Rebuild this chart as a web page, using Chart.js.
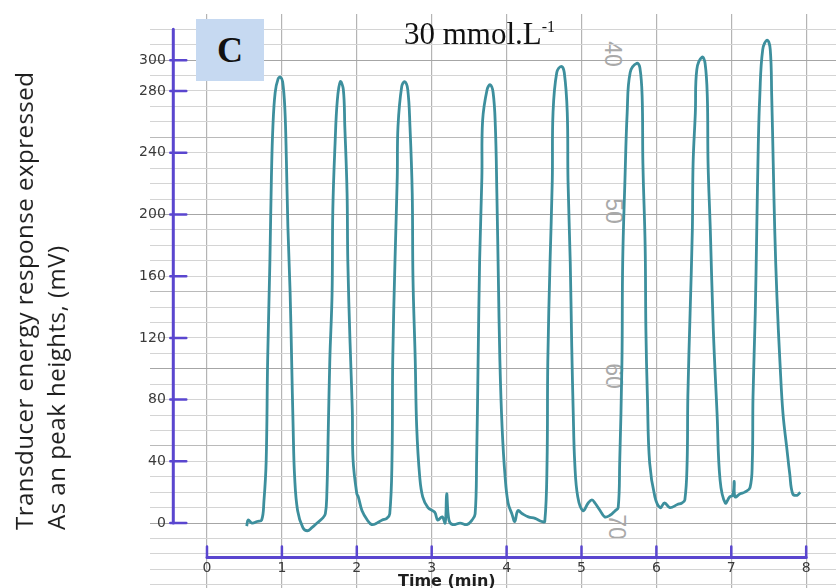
<!DOCTYPE html>
<html>
<head>
<meta charset="utf-8">
<title>Peak heights, 30 mmol/L</title>
<script src="https://cdn.jsdelivr.net/npm/chart.js@4.4.1/dist/chart.umd.min.js"></script>
<style>
  html, body { margin: 0; padding: 0; background: #fff; }
  #wrap { position: relative; width: 836px; height: 588px; overflow: hidden; }
  #trace { position: absolute; left: 0; top: 0; }
  .paperNum {
    position: absolute; width: 40px; height: 24px; margin: -12px 0 0 -20px;
    font: 23px "Liberation Sans", sans-serif; color: #a9a9a9; text-align: center;
    line-height: 24px; transform: rotate(90deg);
  }
  .ytitle {
    position: absolute; left: 8px; top: 62px; width: 66px; height: 468px;
    writing-mode: vertical-rl; transform: rotate(180deg);
    font: 24px "Open Sans", sans-serif; letter-spacing: 0.5px; line-height: 32px;
    color: #1e1e1e; white-space: nowrap;
  }
  .panel {
    position: absolute; left: 196px; top: 19px; width: 68px; height: 62px;
    background: #c6d9f1; font: bold 36px "Liberation Serif", serif; color: #111;
    text-align: center; line-height: 62px;
  }
  .conc {
    position: absolute; left: 404px; top: 18px; font: 31px "Liberation Serif", serif;
    line-height: 31px; color: #111; white-space: nowrap;
  }
  .conc span { font-size: 16px; position: relative; top: -12px; }
  .xtitle {
    position: absolute; left: 398px; top: 573px; font: bold 16px "DejaVu Sans", sans-serif;
    line-height: 16px; color: #1e1e1e; white-space: nowrap;
  }
</style>
</head>
<body>
<div id="wrap">
  <!-- numbers printed on the recorder paper, under the trace -->
  <div class="paperNum" style="left:613px; top:54px">40</div>
  <div class="paperNum" style="left:614px; top:211px">50</div>
  <div class="paperNum" style="left:614px; top:376px">60</div>
  <div class="paperNum" style="left:617px; top:527px">70</div>
  <canvas id="trace" width="836" height="588"></canvas>
  <div class="ytitle">Transducer energy response expressed<br>As an peak heights, (mV)</div>
  <div class="panel">C</div>
  <div class="conc">30 mmol.L<span>-1</span></div>
  <div class="xtitle">Time (min)</div>
</div>
<script>
// recorder trace, time in minutes and response in mV
const timeMin = [
  0.53, 0.55, 0.60, 0.67, 0.73, 0.76, 0.79, 0.81, 0.84, 0.86, 0.88, 0.91, 0.95, 0.98,
  1.01, 1.04, 1.06, 1.08, 1.11, 1.13, 1.15, 1.17, 1.21, 1.28, 1.34, 1.40, 1.47, 1.54,
  1.58, 1.60, 1.62, 1.64, 1.67, 1.68, 1.71, 1.74, 1.78, 1.82, 1.84, 1.87, 1.88, 1.91,
  1.94, 1.95, 2.00, 2.02, 2.07, 2.14, 2.20, 2.27, 2.34, 2.40, 2.44, 2.47, 2.48, 2.51,
  2.54, 2.55, 2.60, 2.64, 2.68, 2.71, 2.74, 2.75, 2.78, 2.80, 2.84, 2.88, 2.95, 3.04,
  3.08, 3.14, 3.18, 3.20, 3.23, 3.28, 3.38, 3.47, 3.54, 3.58, 3.60, 3.62, 3.64, 3.67,
  3.68, 3.74, 3.78, 3.82, 3.85, 3.87, 3.89, 3.91, 3.94, 3.98, 4.02, 4.07, 4.11, 4.15,
  4.21, 4.29, 4.38, 4.47, 4.51, 4.54, 4.55, 4.58, 4.61, 4.62, 4.67, 4.73, 4.77, 4.81,
  4.82, 4.85, 4.87, 4.89, 4.91, 4.95, 5.02, 5.09, 5.14, 5.18, 5.25, 5.31, 5.38, 5.45,
  5.49, 5.51, 5.54, 5.55, 5.58, 5.61, 5.65, 5.74, 5.78, 5.81, 5.82, 5.85, 5.86, 5.88,
  5.91, 5.98, 6.05, 6.11, 6.18, 6.28, 6.34, 6.38, 6.41, 6.42, 6.45, 6.48, 6.49, 6.52,
  6.54, 6.61, 6.65, 6.68, 6.69, 6.72, 6.76, 6.81, 6.85, 6.92, 6.98, 7.02, 7.04, 7.05,
  7.12, 7.18, 7.25, 7.28, 7.29, 7.32, 7.34, 7.36, 7.38, 7.42, 7.48, 7.52, 7.54, 7.56,
  7.58, 7.61, 7.65, 7.69, 7.74, 7.78, 7.82, 7.88, 7.92
];
const responseMv = [
  -2, 2, 0, 1, 2, 14, 40, 106, 170, 224, 257, 279, 288, 289,
  286, 268, 235, 192, 149, 106, 62, 30, 8, -3, -5, -3, 0, 3,
  6, 19, 62, 106, 149, 203, 246, 274, 286, 281, 257, 214, 170, 117,
  73, 41, 19, 17, 8, 2, -1, 0, 2, 3, 6, 41, 106, 170,
  224, 257, 283, 286, 281, 257, 214, 159, 106, 62, 30, 17, 10, 7,
  2, 4, 0, 19, 2, -1, 0, -1, 2, 6, 41, 106, 170, 224,
  261, 281, 284, 279, 257, 214, 159, 106, 62, 30, 13, 6, 1, 8,
  6, 4, 3, 1, 1, 39, 104, 169, 222, 266, 292, 296, 292, 266,
  222, 169, 114, 71, 39, 17, 8, 13, 15, 13, 8, 4, 5, 8,
  10, 39, 104, 169, 222, 266, 292, 298, 295, 276, 233, 179, 125, 82,
  39, 17, 10, 13, 10, 12, 13, 15, 39, 82, 136, 190, 233, 266,
  294, 302, 298, 276, 233, 190, 125, 71, 28, 13, 17, 18, 27, 17,
  19, 20, 23, 39, 82, 136, 190, 244, 276, 307, 313, 307, 276, 233,
  190, 146, 104, 71, 49, 32, 19, 18, 20
];

const yTickLabels = [0, 40, 80, 120, 160, 200, 240, 280, 300];
const xTickLabels = [0, 1, 2, 3, 4, 5, 6, 7, 8];

// paper extends past the pen axes on every side
const X_MIN = -0.761, X_MAX = 8.398;
const Y_MIN = -42.1, Y_MAX = 329.9;
const Y_AXIS_AT = -0.45;     // where the pen drew the mV axis
const Y_LABELS_AT = -0.55;   // right edge of the mV labels
const X_AXIS_AT = -22.4;     // where the pen drew the time axis
const Y_AXIS_TOP = 320;

const TRACE_COLOR = '#3d8f9d';
const PEN_COLOR = '#5a46cf';

// ruled lines of the recorder paper every 10 mV
const paperLines = [];
for (let v = -40; v <= 320; v += 10) paperLines.push(v);

function paperLineColor(v) {
  if (v % 100 === 0) return '#a6a6a6';
  if (v % 50 === 0) return '#bababa';
  return '#d4d4d4';
}

// axes sit inside the plot, so they must not push the plot edges in
function noLabelPadding(s) {
  s.paddingLeft = s.paddingRight = s.paddingTop = s.paddingBottom = 0;
}

// hand drawn axes with their tick marks
const penAxes = {
  id: 'penAxes',
  afterDatasetsDraw(chart) {
    const { ctx, scales: { x, y } } = chart;
    const ax = x.getPixelForValue(Y_AXIS_AT);
    const ay = y.getPixelForValue(X_AXIS_AT);
    ctx.save();
    ctx.strokeStyle = PEN_COLOR;
    ctx.lineCap = 'round';
    ctx.lineWidth = 3;
    ctx.beginPath();
    ctx.moveTo(ax, y.getPixelForValue(0));
    ctx.lineTo(ax, y.getPixelForValue(Y_AXIS_TOP));
    ctx.moveTo(x.getPixelForValue(xTickLabels[0]), ay);
    ctx.lineTo(x.getPixelForValue(xTickLabels[xTickLabels.length - 1]), ay);
    ctx.stroke();
    ctx.lineWidth = 2.5;
    ctx.beginPath();
    yTickLabels.forEach(v => {
      const py = y.getPixelForValue(v);
      ctx.moveTo(ax - 3, py);
      ctx.lineTo(ax + 13, py);
    });
    xTickLabels.forEach(v => {
      const px = x.getPixelForValue(v);
      ctx.moveTo(px, ay);
      ctx.lineTo(px, ay - 11);
    });
    ctx.stroke();
    ctx.restore();
  }
};

new Chart(document.getElementById('trace'), {
  type: 'line',
  data: {
    datasets: [{
      data: timeMin.map((t, i) => ({ x: t, y: responseMv[i] })),
      borderColor: TRACE_COLOR,
      borderWidth: 2.8,
      pointRadius: 0,
      tension: 0.4
    }]
  },
  options: {
    responsive: false,
    animation: false,
    layout: { padding: { left: 150, top: 14, right: 0, bottom: 0 } },
    plugins: { legend: { display: false }, tooltip: { enabled: false } },
    scales: {
      x: {
        type: 'linear',
        min: X_MIN,
        max: X_MAX,
        position: { y: X_AXIS_AT },
        afterBuildTicks: s => { s.ticks = xTickLabels.map(v => ({ value: v })); },
        afterFit: noLabelPadding,
        border: { display: false },
        grid: { color: '#b4b4b4', lineWidth: 1.2, drawTicks: false },
        ticks: {
          padding: 2,
          color: '#3a3a3a',
          font: { family: 'DejaVu Sans', size: 14 },
          callback: v => String(v)
        }
      },
      y: {
        type: 'linear',
        min: Y_MIN,
        max: Y_MAX,
        position: { x: Y_LABELS_AT },
        afterBuildTicks: s => {
          s.ticks = [Y_MIN, ...paperLines, Y_MAX].map(v => ({ value: v }));
        },
        afterFit: noLabelPadding,
        border: { display: false },
        grid: {
          drawTicks: false,
          lineWidth: 1,
          color: c => paperLineColor(c.tick.value)
        },
        ticks: {
          padding: 0,
          autoSkip: false,
          color: '#3a3a3a',
          font: { family: 'DejaVu Sans', size: 14 },
          callback: v => {
            if (v === Y_MIN || v === Y_MAX) return null;
            return yTickLabels.includes(v) ? String(v) : '';
          }
        }
      }
    }
  },
  plugins: [penAxes]
});
</script>
</body>
</html>
